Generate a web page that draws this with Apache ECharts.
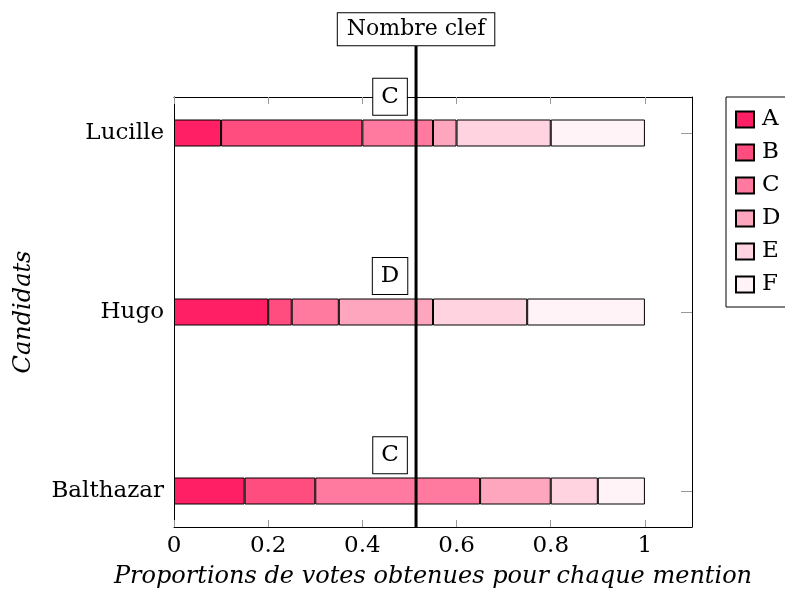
<!DOCTYPE html>
<html>
<head>
<meta charset="utf-8">
<script src="https://cdn.jsdelivr.net/npm/echarts@6/dist/echarts.min.js"></script>
<style>
  html, body { margin: 0; padding: 0; background: #fff; }
  #chart { width: 785px; height: 596px; }
</style>
</head>
<body>
<div id="chart"></div>
<script>
// candidats, du bas vers le haut
const candidats = ["Balthazar", "Hugo", "Lucille"];
const mentions = ["A", "B", "C", "D", "E", "F"];
const couleurs = ["#ff1f65", "#ff4d80", "#ff7a9e", "#ffa6bf", "#ffd3df", "#fff3f7"];
// proportions par mention, une valeur par candidat
const propA = [0.15, 0.2, 0.1];
const propB = [0.15, 0.05, 0.3];
const propC = [0.35, 0.1, 0.15];
const propD = [0.15, 0.2, 0.05];
const propE = [0.1, 0.2, 0.2];
const propF = [0.1, 0.25, 0.2];
const nombreClef = 0.514;
const mentionMajoritaire = ["C", "D", "C"];
const xTicks = [0, 0.2, 0.4, 0.6, 0.8, 1];

const font = "DejaVu Serif";
const props = [propA, propB, propC, propD, propE, propF];

const chart = echarts.init(document.getElementById("chart"));

const barSeries = mentions.map((m, i) => ({
  name: m,
  type: "bar",
  stack: "total",
  xAxisIndex: 2,
  yAxisIndex: 2,
  barWidth: 27,
  data: props[i],
  itemStyle: { color: couleurs[i], borderColor: "#000", borderWidth: 1 },
  emphasis: { disabled: true }
}));

const tick = (len, vals) => ({ show: true, inside: true, length: len, customValues: vals, lineStyle: { color: "#999" } });
const axisLine = { show: true, onZero: false, lineStyle: { color: "#000", width: 1 } };

chart.setOption({
  animation: false,
  grid: [
    { left: 174, right: 93, top: 97, bottom: 69, outerBoundsMode: "none", containLabel: false },
    { left: 174, right: 93, top: 43.5, bottom: 15.5, outerBoundsMode: "none", containLabel: false }
  ],
  legend: {
    data: mentions,
    orient: "vertical",
    left: 726,
    top: 97,
    padding: [11, 40, 11, 9],
    itemWidth: 18,
    itemHeight: 16,
    itemGap: 10,
    icon: "rect",
    borderColor: "#000",
    borderWidth: 1,
    textStyle: { fontFamily: font, fontSize: 23, color: "#000", padding: [0, 0, 0, 3] }
  },
  xAxis: [
    {
      gridIndex: 0, type: "value", min: 0, max: 1.1, interval: 0.2,
      axisLine: axisLine,
      axisTick: tick(7, xTicks),
      splitLine: { show: false },
      axisLabel: {
        customValues: xTicks,
        margin: 8, fontFamily: font, fontSize: 23, color: "#000",
        formatter: v => String(Math.round(v * 10) / 10)
      },
      name: "Proportions de votes obtenues pour chaque mention",
      nameLocation: "middle",
      nameGap: 38,
      nameTextStyle: { fontFamily: font, fontStyle: "italic", fontSize: 24, color: "#000" }
    },
    {
      gridIndex: 0, type: "value", min: 0, max: 1.1, position: "top",
      axisLine: axisLine,
      axisTick: tick(7, xTicks),
      axisLabel: { show: false },
      splitLine: { show: false }
    },
    {
      gridIndex: 1, type: "value", min: 0, max: 1.1, show: false
    }
  ],
  yAxis: [
    {
      gridIndex: 0, type: "value", min: -0.2, max: 2.2,
      axisLine: axisLine,
      axisTick: tick(7, [0, 1, 2]),
      splitLine: { show: false },
      axisLabel: {
        customValues: [0, 1, 2],
        margin: 10, fontFamily: font, fontSize: 23, color: "#000",
        formatter: v => candidats[Math.round(v)]
      },
      name: "Candidats",
      nameLocation: "middle",
      nameGap: 138,
      nameTextStyle: { fontFamily: font, fontStyle: "italic", fontSize: 24, color: "#000" }
    },
    {
      gridIndex: 0, type: "value", min: -0.2, max: 2.2, position: "right",
      axisLine: axisLine,
      axisTick: tick(11, [0, 1, 2]),
      axisLabel: { show: false },
      splitLine: { show: false }
    },
    {
      gridIndex: 1, type: "category", data: candidats, show: false
    }
  ],
  series: barSeries.concat([
    {
      // ligne du nombre clef
      type: "line",
      xAxisIndex: 0, yAxisIndex: 0,
      data: [[nombreClef, -0.2], [nombreClef, 2.5]],
      clip: false,
      symbol: "none",
      lineStyle: { color: "#000", width: 3 },
      z: 10,
      silent: true
    },
    {
      // mention majoritaire de chaque candidat
      type: "scatter",
      xAxisIndex: 0, yAxisIndex: 0,
      symbolSize: 0,
      itemStyle: { opacity: 1 },
      data: mentionMajoritaire.map((m, i) => [nombreClef, i, m]),
      label: {
        show: true,
        position: "inside",
        offset: [-26, -36],
        formatter: p => p.value[2],
        fontFamily: font, fontSize: 23, color: "#000",
        backgroundColor: "#fff",
        borderColor: "#000", borderWidth: 1,
        padding: [6, 8, 6, 8],
        lineHeight: 24
      },
      z: 12,
      silent: true
    },
    {
      type: "scatter",
      xAxisIndex: 0, yAxisIndex: 0,
      symbolSize: 0,
      clip: false,
      itemStyle: { opacity: 1 },
      data: [[nombreClef, 2.5]],
      label: {
        show: true,
        position: "inside",
        offset: [0, -14],
        formatter: "Nombre clef",
        fontFamily: font, fontSize: 22, color: "#000",
        backgroundColor: "#fff",
        borderColor: "#000", borderWidth: 1,
        padding: [4, 9, 4, 9],
        lineHeight: 24
      },
      z: 12,
      silent: true
    }
  ])
});
</script>
</body>
</html>
